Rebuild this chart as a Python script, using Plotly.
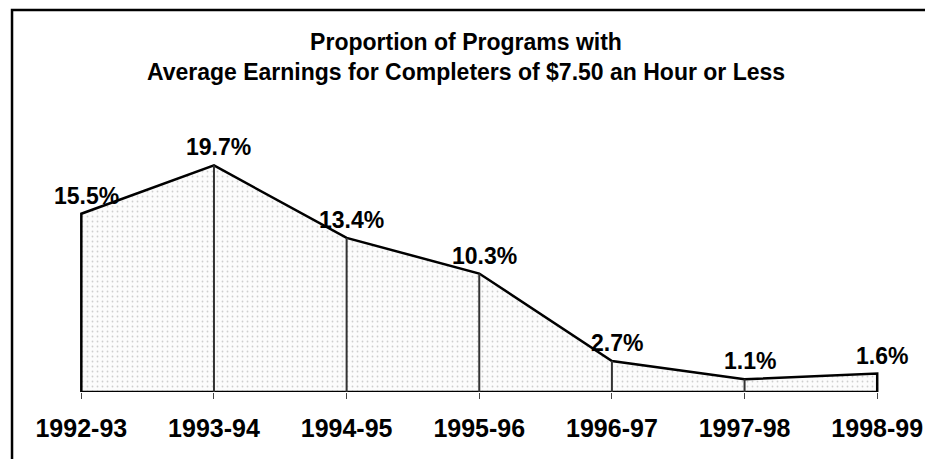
import plotly.graph_objects as go

years = ["1992-93", "1993-94", "1994-95", "1995-96", "1996-97", "1997-98", "1998-99"]
values = [15.5, 19.7, 13.4, 10.3, 2.7, 1.1, 1.6]
labels = ["15.5%", "19.7%", "13.4%", "10.3%", "2.7%", "1.1%", "1.6%"]

xs = list(range(len(years)))
FONT = "Liberation Sans, Arial, sans-serif"

fig = go.Figure()

# filled area polygon (outline includes baseline and end edges)
fig.add_trace(go.Scatter(
    x=[xs[0]] + xs + [xs[-1], xs[0]],
    y=[0] + values + [0, 0],
    mode="lines",
    fill="toself",
    fillcolor="white",
    fillpattern=dict(shape=".", fgcolor="#a0a0a0", bgcolor="#fcfcfc", size=5, solidity=0.1),
    line=dict(color="black", width=2.5),
    hoverinfo="skip",
    showlegend=False,
))

# interior vertical drop lines
vx, vy = [], []
for i in xs[1:-1]:
    vx += [i, i, None]
    vy += [0, values[i], None]
fig.add_trace(go.Scatter(
    x=vx, y=vy, mode="lines",
    line=dict(color="#333333", width=2),
    hoverinfo="skip", showlegend=False,
))

for i, (v, t) in enumerate(zip(values, labels)):
    fig.add_annotation(
        x=i, y=v, text=t, showarrow=False,
        xanchor="center", yanchor="bottom", yshift=3, xshift=5,
        font=dict(family=FONT, size=23, color="black", weight="bold"),
    )

# frame (top and left edges visible)
fig.add_shape(type="rect", xref="paper", yref="paper",
              x0=-0.0033, x1=1.05, y0=-0.35, y1=1.51,
              line=dict(color="black", width=2.5))

fig.update_layout(
    width=933, height=459,
    margin=dict(l=7, r=24, t=131, b=75, autoexpand=False),
    paper_bgcolor="white", plot_bgcolor="white",
    title=dict(
        text="Proportion of Programs with<br>Average Earnings for Completers of $7.50 an Hour or Less",
        x=0.5, xanchor="center", xref="paper",
        y=0.909, yanchor="top", yref="container",
        font=dict(family=FONT, size=23, color="black", weight="bold"),
    ),
    xaxis=dict(
        range=[-0.5, 6.3], tickmode="array", tickvals=xs, ticktext=years,
        showgrid=False, zeroline=False, showline=False, automargin=False,
        ticks="outside", ticklen=6, tickcolor="#444", tickwidth=1,
        ticklabelstandoff=8,
        tickfont=dict(family=FONT, size=25, color="black", weight="bold"),
        fixedrange=True,
    ),
    yaxis=dict(
        range=[0, 22], visible=False, fixedrange=True, automargin=False,
    ),
    showlegend=False,
)

fig.write_html("out.html")
